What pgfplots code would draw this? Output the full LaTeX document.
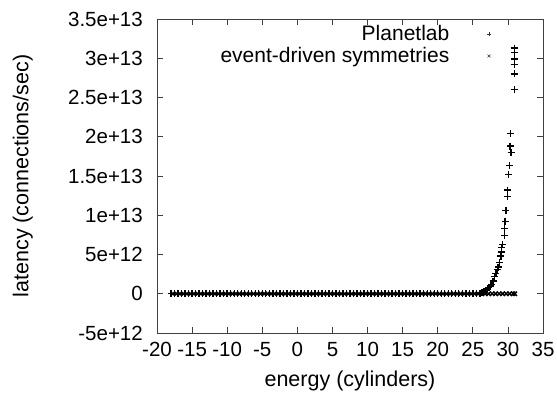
\documentclass[border=0pt]{standalone}
\usepackage{pgfplots}
\pgfplotsset{compat=1.18}
\usepackage{fontspec}
\setmainfont{Liberation Sans}
\begin{document}
\begin{tikzpicture}
\begin{axis}[
 scale only axis, width=386bp, height=314bp,
 xmin=-20, xmax=35, ymin=-5, ymax=35,
 xtick={-20,-15,...,35},
 xticklabels={-20,-15,-10,-5,0,5,10,15,20,25,30,35},
 ytick={-5,0,...,35},
 yticklabels={-5e+12,0,5e+12,1e+13,1.5e+13,2e+13,2.5e+13,3e+13,3.5e+13},
 tick align=inside, major tick length=6bp,
 axis line style={black!75, line width=0.8bp},
 every tick/.style={black!75, line width=0.8bp},
 tick label style={font=\fontsize{20.5bp}{24bp}\selectfont, inner sep=0pt},
 xticklabel shift=9bp, yticklabel shift=14bp,
 xlabel={energy (cylinders)}, ylabel={latency (connections/sec)},
 every axis x label/.style={at={(axis description cs:0.5,0)}, anchor=north, yshift=-38bp, inner sep=0pt, font=\fontsize{21.5bp}{25bp}\selectfont},
 every axis y label/.style={at={(axis description cs:0,0.5)}, xshift=-124bp, rotate=90, anchor=south, inner sep=0pt, font=\fontsize{21.5bp}{25bp}\selectfont},
 legend plot pos=right, legend cell align=right,
 legend style={draw=none, fill=none, inner sep=0pt, outer sep=0pt, at={(1,1)}, anchor=north east, xshift=-52bp, yshift=-6bp,
   font=\fontsize{21bp}{24bp}\selectfont, nodes={inner sep=0pt, text height=15bp, text depth=5bp},
   row sep=2bp},
 legend image code/.code={\path (0bp,0bp); \draw[#1, mark size=2bp, line width=0.7bp, black!80] plot coordinates {(39bp,1bp)};},
]
\addplot[only marks, mark=+, mark size=3.5bp, line width=1.4bp, black] coordinates {
(-18,0)(-17.5,0)(-17,0)(-16.5,0)(-16,0)(-15.5,0)(-15,0)(-14.5,0)(-14,0)(-13.5,0)(-13,0)(-12.5,0)(-12,0)(-11.5,0)(-11,0)(-10.5,0)(-10,0)(-9.5,0)(-9,0)(-8.5,0)(-8,0)(-7.5,0)(-7,0)(-6.5,0)(-6,0)(-5.5,0)(-5,0)(-4.5,0)(-4,0)(-3.5,0)(-3,0)(-2.5,0)(-2,0)(-1.5,0)(-1,0)(-0.5,0)(0,0)(0.5,0)(1,0)(1.5,0)(2,0)(2.5,0)(3,0)(3.5,0)(4,0)(4.5,0)(5,0)(5.5,0)(6,0)(6.5,0)(7,0)(7.5,0)(8,0)(8.5,0)(9,0)(9.5,0)(10,0)(10.5,0)(11,0)(11.5,0)(12,0)(12.5,0)(13,0)(13.5,0)(14,0)(14.5,0)(15,0)(15.5,0)(16,0)(16.5,0)(17,0)(17.5,0)(18,0)(18.5,0)(19,0)(19.5,0)(20,0)(20.5,0)(21,0)(21.5,0)(22,0)(22.5,0)(23,0)(23.5,0)(24,0)(24.5,0.01)(25,0.02)(25.5,0.04)(26,0.08)(26.3,0.15)(26.6,0.25)(26.9,0.4)(27.1,0.55)(27.3,0.8)(27.5,1.0)(27.7,1.2)(27.9,1.6)(28.1,2.2)(28.3,2.6)(28.5,3.1)(28.6,3.4)(28.8,4.0)(29.0,4.8)(29.1,5.3)(29.1,5.9)(29.2,6.3)(29.55,7.4)(29.55,8.3)(29.6,9.2)(29.7,10.6)(29.95,12.4)(29.95,13.2)(30.1,15.2)(30.25,16.3)(30.45,18.0)(30.3,18.8)(30.35,20.4)(30.9,26.0)(30.9,28.0)(30.9,29.2)(30.9,29.9)(30.9,30.7)(30.9,31.3)
};
\addlegendentry{Planetlab}
\addplot[only marks, mark=x, mark size=3bp, line width=1.4bp, black] coordinates {
(-17.75,0)(-17.25,0)(-16.75,0)(-16.25,0)(-15.75,0)(-15.25,0)(-14.75,0)(-14.25,0)(-13.75,0)(-13.25,0)(-12.75,0)(-12.25,0)(-11.75,0)(-11.25,0)(-10.75,0)(-10.25,0)(-9.75,0)(-9.25,0)(-8.75,0)(-8.25,0)(-7.75,0)(-7.25,0)(-6.75,0)(-6.25,0)(-5.75,0)(-5.25,0)(-4.75,0)(-4.25,0)(-3.75,0)(-3.25,0)(-2.75,0)(-2.25,0)(-1.75,0)(-1.25,0)(-0.75,0)(-0.25,0)(0.25,0)(0.75,0)(1.25,0)(1.75,0)(2.25,0)(2.75,0)(3.25,0)(3.75,0)(4.25,0)(4.75,0)(5.25,0)(5.75,0)(6.25,0)(6.75,0)(7.25,0)(7.75,0)(8.25,0)(8.75,0)(9.25,0)(9.75,0)(10.25,0)(10.75,0)(11.25,0)(11.75,0)(12.25,0)(12.75,0)(13.25,0)(13.75,0)(14.25,0)(14.75,0)(15.25,0)(15.75,0)(16.25,0)(16.75,0)(17.25,0)(17.75,0)(18.25,0)(18.75,0)(19.25,0)(19.75,0)(20.25,0)(20.75,0)(21.25,0)(21.75,0)(22.25,0)(22.75,0)(23.25,0)(23.75,0)(24.25,0)(24.75,0)(25.25,0)(25.75,0)(26.25,0)(26.75,0)(27.25,0)(27.75,0)(28.25,0)(28.75,0)(29.25,0)(29.75,0)(30.25,0)(30.75,0)(31,0)
};
\addlegendentry{event-driven symmetries}
\end{axis}
\path ([shift={(-157bp,-65bp)}]current axis.south west) rectangle ([shift={(14bp,19bp)}]current axis.north east);
\end{tikzpicture}
\end{document}
